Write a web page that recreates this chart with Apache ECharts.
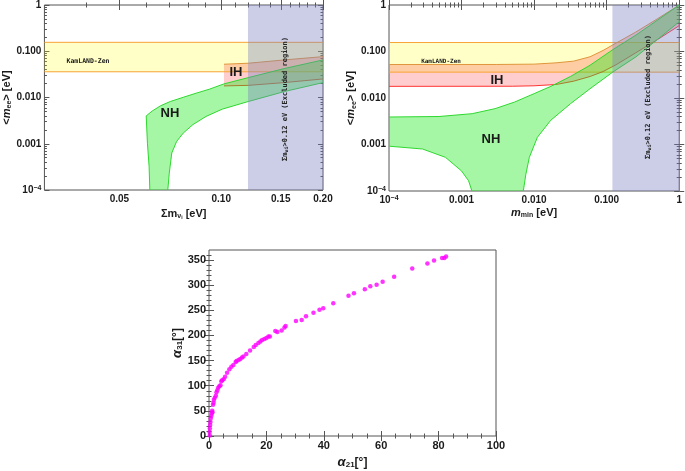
<!DOCTYPE html>
<html><head><meta charset="utf-8">
<script src="https://cdn.jsdelivr.net/npm/echarts@6/dist/echarts.min.js"></script>
<style>html,body{margin:0;padding:0;background:#fff}#c{width:685px;height:471px}</style>
</head><body><div id="c"></div>
<script>
// ================= DATA =================
// common
const decadeTicks = [1e-4, 1e-3, 1e-2, 1e-1, 1];
const kamlandBand = [0.036, 0.156];            // <m_ee> range of KamLAND-Zen bound
// top-left panel: x = sum of masses
const sumRange = [0.03, 0.2];
const sumTicks = [0.05, 0.10, 0.15, 0.20];
const sumMinorTicks = [0.04, 0.06, 0.07, 0.08, 0.09, 0.11, 0.12, 0.13, 0.14, 0.16, 0.17, 0.18, 0.19];
const excludedSum = [0.12, 0.2];
const nhSumUpper = [[0.0600,0.0040],[0.0625,0.0051],[0.0661,0.0066],[0.0707,0.0082],[0.0772,0.0101],[0.0843,0.0124],[0.0922,0.0151],[0.1019,0.0197],[0.1203,0.0269],[0.1535,0.0422],[0.200,0.0649]];
const nhSumLowerRight = [[0.0695,0.0001],[0.0702,0.00023],[0.0714,0.00063],[0.0738,0.00112],[0.0772,0.0017],[0.0825,0.0026],[0.0902,0.0039],[0.1007,0.0056],[0.1203,0.0082],[0.1535,0.0134],[0.200,0.0210]];
const nhSumLeftEdge = [[0.0600,0.0040],[0.0605,0.00103],[0.0612,0.00032],[0.0615,0.0001]];
const ihSumUpper = [[0.1019,0.0524],[0.1203,0.0551],[0.1535,0.0649],[0.200,0.0765]];
const ihSumLower = [[0.1019,0.0178],[0.1203,0.0183],[0.1535,0.0210],[0.200,0.0252]];
// top-right panel: x = lightest mass
const mminRange = [1e-4, 1];
const excludedMmin = [0.12, 1];
const nhMinUpper = [[1e-4,0.0039],[4.9e-4,0.0040],[1.4e-3,0.0046],[2.9e-3,0.0059],[5.4e-3,0.0082],[0.01,0.0124],[0.017,0.0178],[0.032,0.0293],[0.059,0.0506],[0.122,0.110],[0.253,0.225],[1,1]];
const nhMinLowerRight = [[0.0071,0.0001],[0.0077,0.00023],[0.0086,0.00053],[0.0111,0.00143],[0.0169,0.0033],[0.0316,0.0075],[0.0589,0.0158],[0.122,0.0363],[0.253,0.0766],[1,0.436]];
const nhMinLowerLeft = [[1e-4,0.00092],[2.9e-4,0.0008],[6.0e-4,0.00053],[1.0e-3,0.00027],[1.25e-3,0.000166],[1.39e-3,0.0001]];
const ihMinUpper = [[1e-4,0.0525],[0.003,0.0526],[0.01,0.0535],[0.02,0.057],[0.035,0.062],[0.059,0.077],[0.089,0.105],[0.135,0.152],[0.25,0.26],[0.5,0.505],[1,1]];
const ihMinLower = [[1e-4,0.0178],[0.005,0.0179],[0.01,0.0183],[0.02,0.0195],[0.035,0.023],[0.059,0.029],[0.089,0.037],[0.135,0.052],[0.25,0.093],[0.5,0.18],[1,0.36]];
// bottom panel: Majorana phases
const alphaXTicks = [0, 20, 40, 60, 80, 100];
const alphaYTicks = [0, 50, 100, 150, 200, 250, 300, 350];
const alpha21 = [0.3,0.2,0.3,0.4,0.5,0.6,0.8,1.0,1.1,1.2,1.4,1.6,1.7,2.0,2.4,2.6,2.9,3.2,3.6,4.0,4.3,4.6,5.1,5.6,6.3,7.1,7.8,8.5,9.3,9.6,10.3,10.9,11.5,12.0,13.0,14.3,15.6,16.3,17.2,17.9,18.5,19.3,20.0,20.7,21.2,23.1,23.8,25.3,26.3,26.7,30.3,32.3,33.8,36.4,38.5,39.8,43.3,48.6,50.5,54.3,56.2,58.4,60.5,64.5,70.8,76.1,78.4,81.2,82.0,82.6];
const alpha31 = [1,8,15,22,28,35,40,45,50,47,62,66,72,76,80,87,91,96,99,101,109,111,113,118,126,133,138,141,147,149,151,153,156,158,163,170,177,181,185,188,191,193,195,198,198,209,207,210,216,219,229,231,238,245,251,254,264,279,284,292,298,301,307,317,333,343,349,354,354,357];

// ================= BUILD =================
const L = Math.log10;
const FONT = '"Liberation Sans", Arial, sans-serif';
const MONO = '"DejaVu Sans Mono", "Liberation Mono", monospace';
const TXT = '#1a1a1a';
const TICKC = '#555';
const minorDecades = [];
for (let d = -4; d < 0; d++) for (let k = 2; k <= 9; k++) minorDecades.push(L(k * Math.pow(10, d)));

const xAxes = [], yAxes = [];
function tickAxis(grid, pos, min, max, vals, len) {
  return {type:'value', gridIndex:grid, position:pos, min:min, max:max,
    axisLine:{show:false}, splitLine:{show:false},
    axisTick:{show:true, inside:true, length:len, customValues:vals, lineStyle:{color:TICKC, width:1}},
    axisLabel:{show:false}};
}
const labStyle = {fontFamily:FONT, fontWeight:'bold', fontSize:10, color:TXT,
  rich:{a:{fontFamily:FONT, fontWeight:'bold', fontSize:10, color:TXT},
        s:{fontFamily:FONT, fontWeight:'bold', fontSize:7, color:TXT, verticalAlign:'top'}}};
const nameRich = {
  b:{fontFamily:FONT, fontWeight:'bold', fontSize:11, color:TXT},
  i:{fontFamily:FONT, fontWeight:'bold', fontStyle:'italic', fontSize:11, color:TXT},
  sub:{fontFamily:FONT, fontWeight:'bold', fontSize:7, color:TXT, verticalAlign:'bottom', padding:[5,0,0,0]},
  sub2:{fontFamily:FONT, fontWeight:'bold', fontSize:5, color:TXT, verticalAlign:'bottom', padding:[8,0,0,0]}
};
function decadeFmt(v) {
  const e = Math.round(v);
  if (e === 0) return '1';
  if (e === -4) return '{a|10}{s|−4}';
  return Math.pow(10, e).toFixed(3);
}

// ---- grid 0 : top-left
const gx0 = xAxes.length;
xAxes.push({type:'value', gridIndex:0, position:'bottom', min:L(sumRange[0]), max:L(sumRange[1]),
  axisLine:{show:false}, splitLine:{show:false},
  axisTick:{inside:true, length:5, customValues:sumTicks.map(L), lineStyle:{color:TICKC}},
  axisLabel:Object.assign({customValues:sumTicks.map(L), margin:4, formatter:v => Math.pow(10, v).toFixed(2)}, labStyle),
  name:'{b|Σm}{sub|ν}{sub2|i}{b| [eV]}', nameLocation:'middle', nameGap:17, nameTextStyle:{rich:nameRich}});
xAxes.push(tickAxis(0, 'bottom', L(sumRange[0]), L(sumRange[1]), sumMinorTicks.map(L), 2.5));
xAxes.push(tickAxis(0, 'top', L(sumRange[0]), L(sumRange[1]), sumTicks.map(L), 5));
xAxes.push(tickAxis(0, 'top', L(sumRange[0]), L(sumRange[1]), sumMinorTicks.map(L), 2.5));
const gy0 = yAxes.length;
yAxes.push({type:'value', gridIndex:0, position:'left', min:-4, max:0, interval:1,
  axisLine:{show:false}, splitLine:{show:false},
  axisTick:{inside:true, length:5, lineStyle:{color:TICKC}},
  axisLabel:Object.assign({margin:3, formatter:decadeFmt}, labStyle),
  name:'{b|<}{i|m}{sub|ee}{b|> [eV]}', nameLocation:'middle', nameGap:25, nameTextStyle:{rich:nameRich}});
yAxes.push(tickAxis(0, 'left', -4, 0, minorDecades, 2.5));
yAxes.push(tickAxis(0, 'right', -4, 0, decadeTicks.map(L), 5));
yAxes.push(tickAxis(0, 'right', -4, 0, minorDecades, 2.5));

// ---- grid 1 : top-right
const gx1 = xAxes.length;
xAxes.push({type:'value', gridIndex:1, position:'bottom', min:L(mminRange[0]), max:L(mminRange[1]), interval:1,
  axisLine:{show:false}, splitLine:{show:false},
  axisTick:{inside:true, length:5, lineStyle:{color:TICKC}},
  axisLabel:Object.assign({margin:4, formatter:decadeFmt, showMinLabel:true, showMaxLabel:true}, labStyle),
  name:'{i|m}{sub|min}{b| [eV]}', nameLocation:'middle', nameGap:16, nameTextStyle:{rich:nameRich}});
xAxes.push(tickAxis(1, 'bottom', -4, 0, minorDecades, 2.5));
xAxes.push(tickAxis(1, 'top', -4, 0, decadeTicks.map(L), 5));
xAxes.push(tickAxis(1, 'top', -4, 0, minorDecades, 2.5));
const gy1 = yAxes.length;
yAxes.push({type:'value', gridIndex:1, position:'left', min:-4, max:0, interval:1,
  axisLine:{show:false}, splitLine:{show:false},
  axisTick:{inside:true, length:5, lineStyle:{color:TICKC}},
  axisLabel:Object.assign({margin:3, formatter:decadeFmt}, labStyle),
  name:'{b|<}{i|m}{sub|ee}{b|> [eV]}', nameLocation:'middle', nameGap:25, nameTextStyle:{rich:nameRich}});
yAxes.push(tickAxis(1, 'left', -4, 0, minorDecades, 2.5));
yAxes.push(tickAxis(1, 'right', -4, 0, decadeTicks.map(L), 5));
yAxes.push(tickAxis(1, 'right', -4, 0, minorDecades, 2.5));

// ---- grid 2 : bottom scatter
const axNameRich = {b:{fontFamily:FONT, fontWeight:'bold', fontSize:12, color:TXT},
  i:{fontFamily:FONT, fontWeight:'bold', fontStyle:'italic', fontSize:13, color:TXT},
  sub:{fontFamily:FONT, fontWeight:'bold', fontSize:8, color:TXT, verticalAlign:'bottom', padding:[5,0,0,0]}};
const gx2 = xAxes.length;
xAxes.push({type:'value', gridIndex:2, position:'bottom', min:0, max:100, interval:20,
  axisLine:{show:false}, splitLine:{show:false},
  axisTick:{inside:true, length:5, customValues:alphaXTicks, lineStyle:{color:TICKC}},
  minorTick:{show:true, splitNumber:4, length:2.5, lineStyle:{color:TICKC}},
  axisLabel:{customValues:alphaXTicks, margin:4, fontFamily:FONT, fontWeight:'bold', fontSize:11, color:TXT},
  name:'{i|α}{sub|21}{b|[°]}', nameLocation:'middle', nameGap:20, nameTextStyle:{rich:axNameRich}});
xAxes.push({type:'value', gridIndex:2, position:'top', min:0, max:100, interval:20,
  axisLine:{show:false}, splitLine:{show:false}, axisLabel:{show:false},
  axisTick:{inside:true, length:5, lineStyle:{color:TICKC}},
  minorTick:{show:true, splitNumber:4, length:2.5, lineStyle:{color:TICKC}}});
const gy2 = yAxes.length;
yAxes.push({type:'value', gridIndex:2, position:'left', min:0, max:370, interval:50,
  axisLine:{show:false}, splitLine:{show:false},
  axisTick:{inside:true, length:5, customValues:alphaYTicks, lineStyle:{color:TICKC}},
  minorTick:{show:true, splitNumber:5, length:2.5, lineStyle:{color:TICKC}},
  axisLabel:{customValues:alphaYTicks, margin:3, fontFamily:FONT, fontWeight:'bold', fontSize:11, color:TXT},
  name:'{i|α}{sub|31}{b|[°]}', nameLocation:'middle', nameGap:24, nameTextStyle:{rich:axNameRich}});
yAxes.push({type:'value', gridIndex:2, position:'right', min:0, max:370, interval:50,
  axisLine:{show:false}, splitLine:{show:false}, axisLabel:{show:false},
  axisTick:{inside:true, length:5, customValues:alphaYTicks, lineStyle:{color:TICKC}},
  minorTick:{show:true, splitNumber:5, length:2.5, lineStyle:{color:TICKC}}});

// ---- series helpers (log-log panels: values mapped through log10 onto value axes)
function area(xi, yi, pts, fill, z) {
  return {type:'custom', xAxisIndex:xi, yAxisIndex:yi, silent:true, z:z, clip:true,
    data:[[L(pts[0][0]), L(pts[0][1])]],
    renderItem:function (params, api) {
      const p = pts.map(q => api.coord([L(q[0]), L(q[1])]));
      return {type:'polygon', shape:{points:p}, style:{fill:fill, stroke:null}};
    }};
}
function line(xi, yi, pts, color, z, w) {
  return {type:'custom', xAxisIndex:xi, yAxisIndex:yi, silent:true, z:z, clip:true,
    data:[[L(pts[0][0]), L(pts[0][1])]],
    renderItem:function (params, api) {
      const p = pts.map(q => api.coord([L(q[0]), L(q[1])]));
      return {type:'polyline', shape:{points:p}, style:{fill:null, stroke:color, lineWidth:w || 1}};
    }};
}
function rectPts(xr, yr) { return [[xr[0], yr[0]], [xr[1], yr[0]], [xr[1], yr[1]], [xr[0], yr[1]]]; }
function rev(a) { return a.slice().reverse(); }

const C = {
  kamFill:'rgba(255,255,0,0.22)', kamLine:'#f7a436',
  ihFill:'rgba(255,60,60,0.26)', ihUp:'#e0963c', ihLow:'#ff3434',
  nhFill:'rgba(30,235,30,0.40)', nhLine:'#2fd82f',
  excl:'rgba(120,125,195,0.38)'
};

function panel(xi, yi, kamX, ihU, ihL, nhPoly, nhLines, exclX) {
  const s = [];
  s.push(area(xi, yi, rectPts(kamX, kamlandBand), C.kamFill, 1));
  s.push(area(xi, yi, ihU.concat(rev(ihL)), C.ihFill, 2));
  s.push(line(xi, yi, [[kamX[0], kamlandBand[0]], [kamX[1], kamlandBand[0]]], C.kamLine, 3));
  s.push(line(xi, yi, [[kamX[0], kamlandBand[1]], [kamX[1], kamlandBand[1]]], C.kamLine, 3));
  s.push(line(xi, yi, ihU, C.ihUp, 3));
  s.push(line(xi, yi, ihL, C.ihLow, 3));
  s.push(area(xi, yi, nhPoly, C.nhFill, 4));
  nhLines.forEach(l => s.push(line(xi, yi, l, C.nhLine, 5)));
  s.push(area(xi, yi, rectPts(exclX, [1e-4, 1]), C.excl, 6));
  return s;
}

const series = [].concat(
  panel(gx0, gy0, sumRange, ihSumUpper, ihSumLower,
    nhSumUpper.concat(rev(nhSumLowerRight), rev(nhSumLeftEdge)),
    [nhSumUpper, nhSumLowerRight, nhSumLeftEdge], excludedSum),
  panel(gx1, gy1, mminRange, ihMinUpper, ihMinLower,
    nhMinUpper.concat(rev(nhMinLowerRight), rev(nhMinLowerLeft)),
    [nhMinUpper, nhMinLowerRight, nhMinLowerLeft], excludedMmin),
  [{type:'scatter', xAxisIndex:gx2, yAxisIndex:gy2, symbolSize:4.5, silent:true,
    itemStyle:{color:'#ff00ff'}, data:alpha21.map((v, i) => [v, alpha31[i]])}]
);

const exclRich = {
  m:{fontFamily:MONO, fontWeight:'bold', fontSize:7, fill:'#222'},
  s:{fontFamily:MONO, fontWeight:'bold', fontSize:5, fill:'#222', verticalAlign:'bottom', padding:[3,0,0,0]}
};
const exclText = '{m|Σm}{s|νi}{m|>0.12 eV (Excluded region)}';
function txt(x, y, text, size, fam, rot, rich) {
  return {type:'text', x:x, y:y, rotation:rot || 0, z:100,
    style:{text:text, fontFamily:fam, fontWeight:'bold', fontSize:size, fill:'#1a1a1a', align:'center', verticalAlign:'middle', rich:rich}};
}

const chart = echarts.init(document.getElementById('c'), null, {renderer:'canvas'});
chart.setOption({
  animation:false,
  backgroundColor:'#fff',
  grid:[
    {left:38, top:5, width:285, height:185, show:true, borderColor:'#555', borderWidth:1, backgroundColor:'transparent'},
    {left:389, top:5, width:295, height:186, show:true, borderColor:'#555', borderWidth:1, backgroundColor:'transparent'},
    {left:209, top:250, width:287, height:186, show:true, borderColor:'#555', borderWidth:1, backgroundColor:'transparent'}
  ],
  xAxis:xAxes, yAxis:yAxes, series:series,
  graphic:[
    txt(88, 61, 'KamLAND-Zen', 6.5, MONO),
    txt(441, 61, 'KamLAND-Zen', 6, MONO),
    txt(236, 72, 'IH', 13, FONT),
    txt(170, 113, 'NH', 13, FONT),
    txt(497, 80, 'IH', 13, FONT),
    txt(491, 139, 'NH', 13, FONT),
    txt(285, 99, exclText, 7, MONO, Math.PI / 2, exclRich),
    txt(648, 97, exclText, 7, MONO, Math.PI / 2, exclRich)
  ]
});
</script></body></html>
